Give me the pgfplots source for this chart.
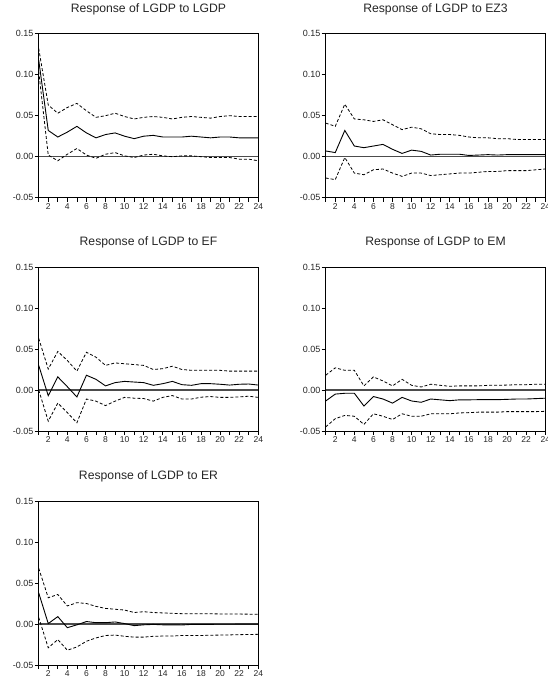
\documentclass[border=0pt]{standalone}
\usepackage{fontspec}
\setmainfont{Liberation Sans}
\usepackage{pgfplots}
\usepackage{pgfplotstable}
\pgfplotsset{compat=1.18}

% columns: horizon, lower band, response, upper band
\pgfplotstableread{
t lo mid hi
1 0.104 0.118 0.132
2 0.002 0.032 0.063
3 -0.005 0.024 0.053
4 0.003 0.030 0.060
5 0.010 0.037 0.065
6 0.002 0.029 0.056
7 -0.002 0.023 0.048
8 0.003 0.027 0.050
9 0.005 0.029 0.053
10 0.001 0.025 0.049
11 -0.001 0.022 0.046
12 0.002 0.025 0.048
13 0.003 0.026 0.049
14 0.001 0.024 0.048
15 0.000 0.024 0.046
16 0.001 0.024 0.048
17 0.001 0.025 0.049
18 0.000 0.024 0.048
19 -0.001 0.023 0.047
20 -0.001 0.024 0.049
21 -0.001 0.024 0.050
22 -0.003 0.023 0.049
23 -0.003 0.023 0.049
24 -0.005 0.023 0.049
}\lgdp

\pgfplotstableread{
t lo mid hi
1 -0.026 0.007 0.041
2 -0.028 0.005 0.037
3 -0.001 0.032 0.064
4 -0.020 0.013 0.046
5 -0.022 0.011 0.045
6 -0.016 0.013 0.043
7 -0.015 0.015 0.045
8 -0.020 0.009 0.039
9 -0.024 0.004 0.033
10 -0.020 0.008 0.036
11 -0.020 0.0065 0.034
12 -0.023 0.002 0.028
13 -0.022 0.003 0.027
14 -0.021 0.003 0.027
15 -0.020 0.003 0.026
16 -0.020 0.0015 0.024
17 -0.019 0.002 0.023
18 -0.018 0.0025 0.023
19 -0.018 0.002 0.022
20 -0.017 0.0025 0.022
21 -0.017 0.0025 0.021
22 -0.017 0.0025 0.021
23 -0.016 0.0025 0.021
24 -0.015 0.0025 0.021
}\ezthree

\pgfplotstableread{
t lo mid hi
1 0.000 0.030 0.063
2 -0.038 -0.007 0.0255
3 -0.016 0.016 0.047
4 -0.0276 0.004 0.036
5 -0.040 -0.0085 0.023
6 -0.011 0.018 0.046
7 -0.0136 0.013 0.040
8 -0.019 0.005 0.030
9 -0.0136 0.009 0.033
10 -0.009 0.0105 0.032
11 -0.010 0.0097 0.031
12 -0.0104 0.009 0.030
13 -0.0136 0.0057 0.025
14 -0.009 0.0077 0.026
15 -0.0068 0.0105 0.029
16 -0.011 0.0065 0.025
17 -0.011 0.0057 0.024
18 -0.0088 0.0077 0.024
19 -0.008 0.0077 0.024
20 -0.009 0.007 0.024
21 -0.009 0.006 0.023
22 -0.0084 0.007 0.023
23 -0.0076 0.0073 0.023
24 -0.009 0.006 0.023
}\ef

\pgfplotstableread{
t lo mid hi
1 -0.045 -0.0134 0.018
2 -0.035 -0.005 0.027
3 -0.031 -0.004 0.024
4 -0.032 -0.004 0.024
5 -0.042 -0.0195 0.005
6 -0.029 -0.008 0.016
7 -0.032 -0.011 0.011
8 -0.036 -0.016 0.005
9 -0.029 -0.009 0.013
10 -0.032 -0.0134 0.0057
11 -0.032 -0.015 0.0037
12 -0.029 -0.011 0.007
13 -0.029 -0.012 0.0057
14 -0.029 -0.013 0.0045
15 -0.028 -0.012 0.005
16 -0.0276 -0.012 0.005
17 -0.027 -0.0118 0.005
18 -0.027 -0.0118 0.0057
19 -0.027 -0.0118 0.0057
20 -0.0264 -0.0114 0.006
21 -0.0264 -0.011 0.0065
22 -0.0264 -0.011 0.0065
23 -0.0264 -0.0105 0.007
24 -0.026 -0.010 0.007
}\em

\pgfplotstableread{
t lo mid hi
1 0.008 0.038 0.068
2 -0.029 0.0005 0.032
3 -0.019 0.009 0.036
4 -0.032 -0.0045 0.022
5 -0.028 -0.001 0.026
6 -0.021 0.003 0.025
7 -0.017 0.0016 0.0215
8 -0.014 0.0016 0.019
9 -0.0135 0.0025 0.018
10 -0.015 0.0005 0.017
11 -0.016 -0.002 0.014
12 -0.016 -0.001 0.015
13 -0.015 -0.0005 0.014
14 -0.0147 -0.001 0.0135
15 -0.0147 -0.001 0.013
16 -0.014 -0.0012 0.0126
17 -0.014 -0.0005 0.0126
18 -0.014 -0.0005 0.0125
19 -0.0137 -0.0004 0.0124
20 -0.0135 -0.0003 0.0123
21 -0.0133 -0.0003 0.0122
22 -0.013 -0.0002 0.0121
23 -0.0128 -0.0002 0.012
24 -0.0126 -0.0002 0.012
}\er

\pgfplotsset{
  irf/.style={
    scale only axis,
    anchor=south west,
    width=219.6pt, height=164pt,
    xmin=1, xmax=24, ymin=-0.05, ymax=0.15,
    xtick={1,...,24},
    xticklabels={,2,,4,,6,,8,,10,,12,,14,,16,,18,,20,,22,,24},
    ytick={-0.05,0,0.05,0.10,0.15},
    yticklabels={-0.05,0.00,0.05,0.10,0.15},
    tick pos=left,
    tick align=outside,
    major tick length=4pt,
    tick style={black, line width=0.7pt},
    axis line style={black, line width=0.8pt},
    xticklabel style={font=\fontsize{8.5}{9}\selectfont, color=black!85, inner sep=1.5pt},
    yticklabel style={font=\fontsize{9}{10}\selectfont, color=black!85, inner sep=1pt},
    title style={font=\fontsize{12.2}{13}\selectfont, color=black!85, at={(0.5,1)}, anchor=base, yshift=15pt},
    /pgf/number format/assume math mode=true,
    clip=false,
  },
  band/.style={black, line width=0.8pt, dash pattern=on 3pt off 2pt},
  resp/.style={black, line width=0.9pt},
  zero/.style={black!70, line width=1.1pt},
}

\newcommand{\irfpanel}[1]{%
  \addplot[zero, forget plot] coordinates {(1,0) (24,0)};
  \addplot[band] table[x=t, y=hi] {#1};
  \addplot[band] table[x=t, y=lo] {#1};
  \addplot[resp] table[x=t, y=mid] {#1};
}

\begin{document}
\begin{tikzpicture}[x=1pt, y=1pt]
  \path[use as bounding box] (0,0) rectangle (548,679);

  \begin{axis}[irf, at={(38.7pt,481.3pt)}, title={Response of LGDP to LGDP}]
    \irfpanel{\lgdp}
  \end{axis}

  \begin{axis}[irf, at={(325.7pt,481.3pt)}, title={Response of LGDP to EZ3}]
    \irfpanel{\ezthree}
  \end{axis}

  \begin{axis}[irf, at={(38.7pt,248pt)}, title={Response of LGDP to EF}]
    \irfpanel{\ef}
  \end{axis}

  \begin{axis}[irf, at={(325.7pt,248pt)}, title={Response of LGDP to EM}]
    \irfpanel{\em}
  \end{axis}

  \begin{axis}[irf, at={(38.7pt,14pt)}, title={Response of LGDP to ER}]
    \irfpanel{\er}
  \end{axis}
\end{tikzpicture}
\end{document}
